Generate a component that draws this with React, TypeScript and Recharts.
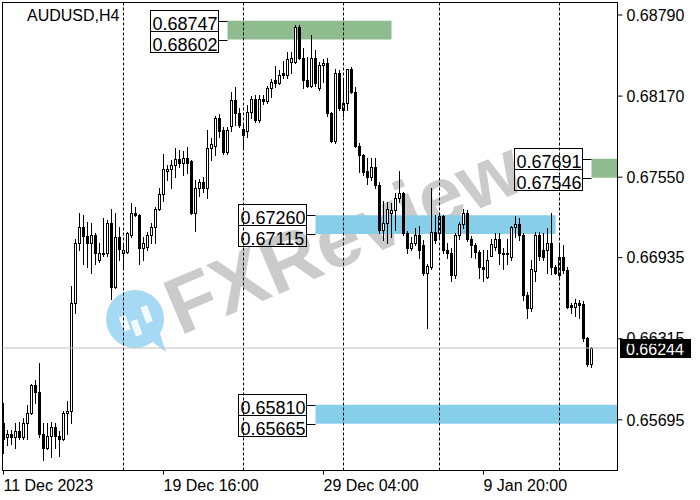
import { ComposedChart, Bar, XAxis, YAxis, ReferenceArea, ReferenceLine } from "recharts";

const FONT = "'Liberation Sans', Arial, sans-serif";

// AUDUSD H4 candles, oldest first (11 Dec 2023 00:00 onwards)
const opens = [
  0.6567, 0.6556, 0.6559, 0.6556, 0.6561, 0.6556, 0.6567, 0.6575, 0.6596, 0.6591,
  0.6559, 0.6548, 0.6557, 0.6564, 0.6557, 0.6555, 0.6575, 0.6576, 0.6659, 0.6705,
  0.6717, 0.671, 0.6705, 0.6711, 0.6692, 0.6696, 0.6697, 0.672, 0.6671, 0.6709,
  0.6697, 0.6698, 0.6711, 0.6728, 0.6726, 0.6701, 0.6702, 0.6711, 0.6717, 0.6731,
  0.6742, 0.676, 0.6761, 0.6764, 0.6769, 0.6766, 0.677, 0.6767, 0.6728, 0.6747,
  0.6751, 0.6747, 0.6777, 0.6779, 0.68, 0.6791, 0.6774, 0.6794, 0.6814, 0.6804,
  0.6792, 0.679, 0.6805, 0.6815, 0.6799, 0.6815, 0.6813, 0.6823, 0.6829, 0.6827,
  0.6835, 0.6833, 0.6843, 0.6843, 0.687, 0.6846, 0.6829, 0.6825, 0.6846, 0.6823,
  0.6841, 0.6842, 0.6804, 0.6783, 0.6835, 0.6806, 0.6812, 0.6838, 0.682, 0.6779,
  0.6772, 0.676, 0.6755, 0.6763, 0.6749, 0.6715, 0.672, 0.6728, 0.673, 0.6739,
  0.6743, 0.6712, 0.6701, 0.6705, 0.6711, 0.6703, 0.6682, 0.6686, 0.6713, 0.6712,
  0.6725, 0.6699, 0.6697, 0.668, 0.6711, 0.6719, 0.6728, 0.6708, 0.6703, 0.6698,
  0.6686, 0.6679, 0.6695, 0.6702, 0.6708, 0.6697, 0.6696, 0.6694, 0.6717, 0.6719,
  0.6711, 0.6665, 0.6655, 0.6683, 0.6711, 0.6699, 0.6699, 0.6705, 0.6686, 0.668,
  0.6694, 0.6684, 0.6657, 0.6656, 0.6659, 0.6658, 0.6632, 0.6612,
];

const highs = [
  0.6582, 0.6562, 0.6562, 0.6567, 0.6568, 0.6571, 0.6581, 0.6597, 0.66, 0.6613,
  0.6567, 0.6567, 0.6568, 0.6567, 0.6561, 0.6576, 0.6584, 0.6672, 0.6708, 0.6728,
  0.6726, 0.6721, 0.672, 0.6712, 0.6705, 0.6724, 0.6722, 0.6731, 0.6728, 0.6717,
  0.6705, 0.6713, 0.6735, 0.6732, 0.6727, 0.6709, 0.6713, 0.672, 0.6732, 0.6747,
  0.6773, 0.6764, 0.6768, 0.6777, 0.6776, 0.6775, 0.6778, 0.6768, 0.6753, 0.6754,
  0.6755, 0.6791, 0.6785, 0.6802, 0.6803, 0.6793, 0.6793, 0.682, 0.6824, 0.6808,
  0.6795, 0.681, 0.6817, 0.6818, 0.6818, 0.6818, 0.6825, 0.683, 0.684, 0.6837,
  0.6844, 0.6851, 0.6851, 0.6871, 0.6871, 0.6854, 0.6847, 0.6864, 0.6852, 0.6843,
  0.6845, 0.6846, 0.6805, 0.6838, 0.6837, 0.6829, 0.6838, 0.6839, 0.6824, 0.6781,
  0.6773, 0.677, 0.677, 0.677, 0.6751, 0.6737, 0.6736, 0.6735, 0.6743, 0.676,
  0.6744, 0.6714, 0.6709, 0.6716, 0.6718, 0.6707, 0.6689, 0.6747, 0.6726, 0.6726,
  0.6726, 0.6705, 0.6701, 0.6712, 0.6721, 0.6731, 0.673, 0.671, 0.6705, 0.6699,
  0.6699, 0.6699, 0.6708, 0.6712, 0.6712, 0.6701, 0.6708, 0.6718, 0.6725, 0.6724,
  0.6712, 0.6667, 0.6692, 0.6713, 0.6713, 0.6712, 0.6716, 0.6728, 0.6688, 0.6705,
  0.6703, 0.6686, 0.6659, 0.6662, 0.6661, 0.666, 0.6633, 0.6625,
];

const lows = [
  0.6544, 0.655, 0.6551, 0.6548, 0.6555, 0.6555, 0.6555, 0.6574, 0.6582, 0.6556,
  0.6539, 0.6547, 0.6541, 0.6548, 0.6542, 0.6554, 0.6559, 0.6567, 0.6651, 0.6699,
  0.6689, 0.6686, 0.6682, 0.6689, 0.669, 0.6695, 0.6695, 0.6662, 0.667, 0.6692,
  0.6686, 0.6697, 0.6709, 0.6725, 0.6689, 0.6692, 0.6699, 0.6705, 0.6705, 0.673,
  0.6737, 0.6753, 0.6747, 0.6755, 0.6763, 0.6757, 0.6758, 0.6727, 0.6714, 0.6741,
  0.6744, 0.6739, 0.6768, 0.6772, 0.6786, 0.6773, 0.6773, 0.679, 0.6795, 0.6793,
  0.6777, 0.6786, 0.68, 0.6797, 0.6797, 0.6811, 0.6812, 0.6816, 0.6824, 0.6826,
  0.6831, 0.6831, 0.6835, 0.6842, 0.6845, 0.6823, 0.6824, 0.6824, 0.6825, 0.6822,
  0.6828, 0.6802, 0.6782, 0.6781, 0.6806, 0.6802, 0.6806, 0.6819, 0.6778, 0.6759,
  0.6757, 0.675, 0.6753, 0.6747, 0.6712, 0.6707, 0.6705, 0.6709, 0.6715, 0.6736,
  0.6711, 0.6697, 0.6699, 0.6703, 0.6693, 0.668, 0.664, 0.6685, 0.6705, 0.6709,
  0.6697, 0.6693, 0.6676, 0.6678, 0.6708, 0.6716, 0.6706, 0.6694, 0.6693, 0.6678,
  0.6676, 0.6678, 0.6695, 0.6699, 0.6689, 0.6685, 0.6689, 0.6692, 0.6709, 0.6707,
  0.6661, 0.6647, 0.6653, 0.6676, 0.6692, 0.6692, 0.6682, 0.6681, 0.6681, 0.6679,
  0.6682, 0.6655, 0.6651, 0.6649, 0.6647, 0.663, 0.6611, 0.661,
];

const closes = [
  0.6555, 0.6559, 0.6556, 0.6561, 0.6556, 0.6567, 0.6575, 0.6596, 0.6591, 0.6559,
  0.6548, 0.6557, 0.6564, 0.6557, 0.6555, 0.6575, 0.6576, 0.6659, 0.6705, 0.6717,
  0.671, 0.6705, 0.6711, 0.6697, 0.6697, 0.6697, 0.672, 0.6671, 0.6709, 0.67,
  0.6699, 0.6712, 0.6728, 0.6726, 0.6701, 0.6705, 0.6711, 0.6717, 0.6731, 0.6742,
  0.6761, 0.6761, 0.6764, 0.6769, 0.6766, 0.677, 0.6766, 0.6728, 0.6747, 0.6751,
  0.6747, 0.6777, 0.678, 0.68, 0.679, 0.6774, 0.6791, 0.6814, 0.6804, 0.6795,
  0.6787, 0.6805, 0.6815, 0.6799, 0.6815, 0.6813, 0.6823, 0.6828, 0.6827, 0.6833,
  0.6833, 0.6845, 0.6846, 0.687, 0.6846, 0.6829, 0.6825, 0.6846, 0.6827, 0.6841,
  0.6842, 0.6804, 0.6783, 0.6835, 0.6808, 0.6812, 0.6838, 0.682, 0.6779, 0.6772,
  0.6759, 0.6755, 0.6763, 0.6749, 0.6715, 0.672, 0.6731, 0.673, 0.6739, 0.6743,
  0.6712, 0.6701, 0.6705, 0.6711, 0.6699, 0.6682, 0.6687, 0.6713, 0.6707, 0.6725,
  0.6699, 0.6697, 0.668, 0.6711, 0.6719, 0.6728, 0.6708, 0.6703, 0.6698, 0.6686,
  0.6685, 0.6692, 0.6704, 0.6708, 0.6697, 0.6696, 0.6697, 0.6717, 0.6719, 0.6711,
  0.6665, 0.6655, 0.6685, 0.6711, 0.6695, 0.6694, 0.6705, 0.6686, 0.6682, 0.6694,
  0.6684, 0.6656, 0.6656, 0.6659, 0.6657, 0.6632, 0.6612, 0.66244,
];

const lastPrice = 0.66244;

// axis ticks
const priceTicks = [0.6879, 0.6817, 0.6755, 0.66935, 0.66315, 0.65695];
const dateTicks = [0, 40, 80, 120];
const dateLabels = ["11 Dec 2023", "19 Dec 16:00", "29 Dec 04:00", "9 Jan 20:00"];

// week separators (candle index of Monday 00:00)
const weekStarts = [30, 60, 85, 109, 139];

// drawn supply / demand zones
const zoneHigh = [0.68747, 0.67691, 0.6726, 0.6581];
const zoneLow = [0.68602, 0.67546, 0.67115, 0.65665];
const zoneFrom = [56, 147, 78, 78];
const zoneTo: (number | undefined)[] = [97, undefined, 138, undefined];
const zoneColor = ["#8fbc8f", "#8fbc8f", "#87ceeb", "#87ceeb"];

const candles = opens.map((o, i) => ({
  i,
  open: o,
  high: highs[i],
  low: lows[i],
  close: closes[i],
}));

function Candle(props: any) {
  const { x, y, width, height, payload } = props;
  if (x == null || y == null || !payload) return null;
  const top = Math.min(y, y + height);
  const bottom = Math.max(y, y + height);
  const span = payload.high - payload.low || 1;
  const toY = (p: number) => top + ((payload.high - p) / span) * (bottom - top);
  const cx = Math.floor(x + width / 2 + 0.25) + 0.5;
  const yo = Math.round(toY(payload.open));
  const yc = Math.round(toY(payload.close));
  const bTop = Math.min(yo, yc);
  const bBot = Math.max(yo, yc);
  const bull = payload.close >= payload.open;
  return (
    <g>
      <line x1={cx} x2={cx} y1={Math.round(top)} y2={Math.round(bottom) + 1} stroke="#000" strokeWidth={1} />
      {bBot - bTop < 1 ? (
        <line x1={cx - 1.5} x2={cx + 1.5} y1={bTop + 0.5} y2={bTop + 0.5} stroke="#000" />
      ) : (
        <rect x={cx - 1} y={bTop + 0.5} width={2} height={bBot - bTop} fill={bull ? "#fff" : "#000"} stroke="#000" strokeWidth={1} />
      )}
    </g>
  );
}

const zoneLabel = (hi: number, lo: number) => (props: any) => {
  const vb = props.viewBox ?? props;
  if (!vb || vb.x == null) return null;
  const yTop = Math.round(vb.y) + 0.5;
  const yBot = Math.round(vb.y + vb.height) + 0.5;
  const right = Math.round(vb.x) - 10 + 0.5;
  const left = right - 68;
  const b1 = yTop - 11;
  const b2 = b1 + 21;
  return (
    <g>
      <line x1={right} x2={vb.x} y1={yTop} y2={yTop} stroke="#000" />
      <line x1={right} x2={vb.x} y1={yBot} y2={yBot} stroke="#000" />
      <rect x={left} y={b1} width={68} height={21} fill="none" stroke="#000" />
      <rect x={left} y={b2} width={68} height={21} fill="none" stroke="#000" />
      <text x={left + 2} y={b1 + 19} fontSize={18} fontFamily={FONT} fill="#000">
        {hi.toFixed(5)}
      </text>
      <text x={left + 2} y={b2 + 19} fontSize={18} fontFamily={FONT} fill="#000">
        {lo.toFixed(5)}
      </text>
    </g>
  );
};

const priceTag = (props: any) => {
  const vb = props.viewBox ?? props;
  if (!vb || vb.y == null) return null;
  const y = Math.round(vb.y);
  const left = vb.x + vb.width + 2.5;
  return (
    <g>
      <rect x={left} y={y - 9} width={71} height={19} fill="#000" />
      <text x={left + 6} y={y + 7} fontSize={16} fontFamily={FONT} fill="#fff">
        {lastPrice.toFixed(5)}
      </text>
    </g>
  );
};

const DateTick = (props: any) => {
  const { x, y, payload } = props;
  const k = dateTicks.indexOf(payload.value);
  return (
    <text x={x} y={y + 14.5} fontSize={16} fontFamily={FONT} fill="#000" textAnchor="start">
      {dateLabels[k]}
    </text>
  );
};

function Watermark() {
  return (
    <svg width={700} height={500} style={{ position: "absolute", left: 0, top: 0 }}>
      <rect x={0} y={0} width={700} height={500} fill="#fff" />
      <text
        x={354}
        y={262}
        transform="rotate(-23 354 262)"
        textAnchor="middle"
        fontSize={80}
        fontWeight="bold"
        fontFamily={FONT}
        fill="#cbcbcb"
      >
        FXReview
      </text>
      <circle cx={135} cy={319} r={29} fill="#a6d9f4" />
      <path d="M150 340 L166 352 L160 334 Z" fill="#a6d9f4" />
      <rect x={121} y={316} width={7} height={15} fill="#fff" opacity={0.85} transform="rotate(-20 124 323)" />
      <rect x={133} y={320} width={7} height={16} fill="#fff" opacity={0.85} transform="rotate(-20 136 328)" />
      <rect x={143} y={306} width={7} height={17} fill="#fff" opacity={0.85} transform="rotate(-20 146 314)" />
      <rect x={2.5} y={2.5} width={615} height={468} fill="none" stroke="#000" />
      <text x={27} y={21} fontSize={16} fontFamily={FONT} fill="#000">
        AUDUSD,H4
      </text>
    </svg>
  );
}

export default function App() {
  return (
    <div style={{ position: "absolute", left: 0, top: 0, width: 700, height: 500 }}>
      <Watermark />
      <div style={{ position: "absolute", left: 0, top: 0 }}>
        <ComposedChart
          width={700}
          height={500}
          data={candles}
          margin={{ top: 2.5, right: 0, bottom: 0, left: 2.5 }}
        >
          <XAxis
            dataKey="i"
            type="number"
            domain={[-0.25, 153.5]}
            allowDataOverflow
            ticks={dateTicks}
            interval={0}
            tickSize={4}
            height={29.5}
            axisLine={{ stroke: "#000" }}
            tickLine={{ stroke: "#000" }}
            tick={<DateTick />}
          />
          <YAxis
            orientation="right"
            type="number"
            domain={[0.653076, 0.688856]}
            allowDataOverflow
            ticks={priceTicks}
            interval={0}
            width={82.5}
            tickSize={5}
            tickMargin={4}
            axisLine={{ stroke: "#000" }}
            tickLine={{ stroke: "#000" }}
            tick={{ fill: "#000", fontSize: 16, fontFamily: FONT }}
            tickFormatter={(v: number) => v.toFixed(5)}
          />

          {zoneHigh.map((hi, k) => (
            <ReferenceArea
              key={`zone-${k}`}
              x1={zoneFrom[k]}
              x2={zoneTo[k]}
              y1={zoneLow[k]}
              y2={hi}
              fill={zoneColor[k]}
              fillOpacity={1}
              stroke="none"
              label={zoneLabel(hi, zoneLow[k])}
            />
          ))}

          {weekStarts.map((w) => (
            <ReferenceLine key={`sep-${w}`} x={w} stroke="#000" strokeDasharray="3 2" />
          ))}

          <Bar
            dataKey={(d: any) => [d.low, d.high]}
            shape={<Candle />}
            barSize={3}
            isAnimationActive={false}
          />

          <ReferenceLine y={lastPrice} stroke="#c0c0c0" label={priceTag} />
        </ComposedChart>
      </div>
    </div>
  );
}
